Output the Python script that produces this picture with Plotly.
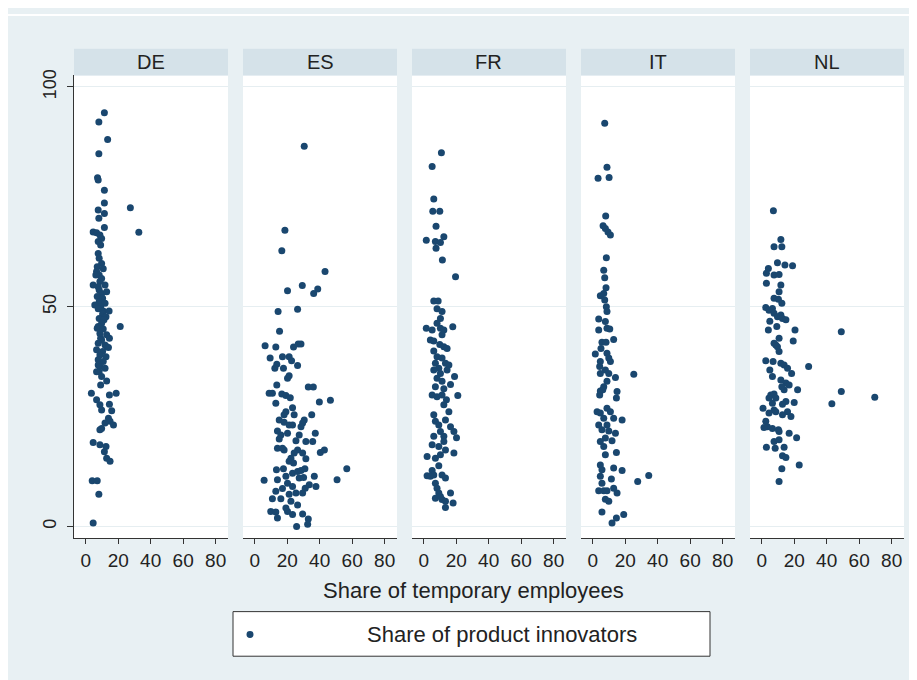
import plotly.graph_objects as go

countries = ["DE", "ES", "FR", "IT", "NL"]

de_x = [11.5, 8.1, 13.5, 8.1, 7.3, 7.7, 11.5, 11.5, 27.5, 7.7, 11.5, 8.1, 32.7, 4.6, 6.7, 8.75, 11.5, 9.8, 9.2, 7.7,
        7.7, 8.3, 9.8, 7.1, 10.8, 6.7, 8.3, 6.25, 9.8, 8.75, 4.6, 7.7, 11.9, 8.3, 9.8, 12.9, 7.1, 10.4, 8.3, 11.9,
        5.6, 9.2, 7.7, 10.8, 10.4, 12.5, 8.3, 11.25, 9.8, 7.7, 7.1, 10.8, 8.75, 12.9, 14.6, 9.2, 9.8, 7.7, 11.9, 12.9,
        14.0, 6.7, 10.4, 8.75, 12.5, 7.7, 10.8, 7.7, 8.75, 11.9, 8.3, 6.7, 9.8, 12.9, 9.2,
        3.5, 14.6, 18.75, 6.7, 8.75, 9.8, 14.6, 16.0, 14.0, 15.0, 11.9, 9.8, 8.75, 17.1,
        4.6, 8.75, 12.5, 11.5, 12.9, 15.0, 4.0, 7.1, 8.1, 4.6, 21.25, 14.4]
de_y = [94.1, 92.0, 88.0, 84.8, 79.3, 78.8, 76.5, 73.6, 72.5, 72.0, 71.2, 70.1, 66.9, 67.0, 66.8, 66.3, 68.0, 65.5, 64.0, 64.8,
        62.1, 61.0, 59.8, 59.1, 58.6, 58.0, 57.2, 57.2, 56.4, 55.7, 54.9, 54.5, 54.9, 53.8, 53.0, 53.4, 52.3, 51.9, 51.1, 50.8,
        50.4, 50.0, 49.5, 49.0, 48.3, 47.7, 47.3, 47.0, 46.2, 45.5, 45.1, 44.9, 43.9, 43.6, 42.8, 42.8, 42.4, 41.7, 41.3, 40.9,
        40.7, 40.2, 39.8, 39.0, 38.6, 37.9, 37.5, 36.7, 36.4, 36.0, 35.2, 35.2, 34.1, 33.1, 32.2,
        30.3, 29.9, 30.3, 28.8, 27.7, 26.5, 27.8, 26.3, 24.6, 23.9, 23.5, 22.3, 22.0, 23.1,
        19.1, 18.6, 18.2, 17.0, 15.5, 14.8, 10.4, 10.4, 7.3, 0.8, 45.5, 49.0]

es_x = [30.5, 18.6, 16.7, 43.3, 20.2, 29.3, 36.3, 38.8, 14.4, 26.4, 15.3, 6.4, 13.0, 23.9, 26.8, 28.5,
        9.5, 17.1, 21.2, 22.7, 26.4, 13.6, 17.7, 12.4, 21.2, 20.2, 13.6, 8.9, 10.9, 16.7, 19.2, 21.9, 33.0, 36.1,
        13.0, 39.8, 46.6, 35.1, 23.3, 24.3, 19.2, 18.1, 15.1, 18.1, 21.2, 23.3, 30.5, 29.5, 28.5,
        14.0, 16.1, 20.2, 27.4, 25.4, 31.5, 35.7, 37.3, 15.1, 14.0, 18.1, 17.1, 26.4, 24.3, 29.5, 22.3, 21.2, 31.5,
        40.4, 42.9, 13.4, 17.7, 23.9, 19.2, 23.3, 26.4, 28.5, 30.9, 27.4, 30.1, 36.7, 37.7, 33.6, 31.1, 56.7, 50.7,
        5.8, 14.0, 13.0, 17.1, 20.2, 23.3, 25.4, 21.2, 29.5, 10.9, 16.1, 22.3, 26.4, 9.9, 13.0, 19.2, 20.2, 14.0,
        23.3, 29.5, 33.0, 32.6, 25.8]
es_y = [86.5, 67.4, 62.7, 58.0, 53.6, 54.8, 53.0, 54.0, 48.9, 49.4, 44.4, 41.1, 40.8, 40.8, 41.5, 41.5,
        38.3, 38.6, 38.6, 37.7, 36.6, 36.9, 36.0, 36.0, 34.3, 33.7, 32.2, 30.3, 30.3, 30.1, 29.8, 29.3, 31.7, 31.7,
        28.0, 28.3, 28.7, 25.4, 27.0, 25.4, 26.1, 25.4, 24.2, 23.7, 23.1, 23.1, 24.2, 23.5, 22.7,
        21.7, 20.8, 21.2, 20.8, 19.5, 19.3, 19.3, 21.2, 19.9, 17.8, 17.4, 17.8, 17.4, 16.7, 16.7, 15.5, 14.8, 15.4,
        16.8, 17.4, 12.9, 13.1, 14.4, 11.4, 12.1, 12.5, 12.7, 13.1, 11.0, 11.1, 11.4, 9.1, 9.5, 8.7, 13.1, 10.6,
        10.5, 10.6, 8.0, 8.6, 9.8, 9.1, 7.6, 7.3, 7.6, 6.3, 6.3, 5.7, 4.9, 3.4, 3.3, 4.2, 3.4, 1.9,
        2.7, 2.8, 1.7, 0.5, 0.0]

fr_x = [10.9, 5.2, 6.2, 5.6, 9.9, 7.6, 1.6, 7.2, 10.3, 12.4, 7.6, 11.5, 19.6,
        6.2, 8.9, 8.2, 11.3, 10.3, 8.2, 1.6, 5.2, 10.3, 12.4, 17.9, 11.3, 4.1, 6.2, 9.9, 12.4, 14.4, 6.2,
        8.2, 11.3, 13.4, 7.2, 9.3, 15.5, 6.2, 10.3, 14.4, 19.0, 8.2, 11.3, 16.5, 7.2, 12.4, 5.2, 8.2, 11.3,
        21.0, 14.0, 12.4, 15.5, 6.2, 13.4, 7.2, 9.3, 16.5, 10.3, 18.6, 20.2, 12.4, 6.2, 12.4, 9.3, 5.2,
        13.4, 18.6, 2.1, 7.2, 10.3, 9.3, 5.2, 2.1, 6.2, 11.3, 13.4, 4.1, 7.2, 8.2, 9.3, 7.2, 11.3, 13.4,
        16.5, 18.1, 13.4, 10.3]
fr_y = [85.0, 81.9, 74.5, 71.7, 71.7, 68.3, 65.1, 64.8, 64.6, 65.9, 63.3, 60.6, 56.8,
        51.3, 51.3, 49.5, 48.9, 47.3, 46.2, 45.1, 44.7, 45.1, 44.7, 45.4, 43.6, 42.4, 42.2, 41.4, 40.9, 40.5, 39.9,
        38.6, 38.3, 37.1, 37.1, 36.0, 36.7, 35.6, 34.8, 35.6, 34.1, 33.7, 33.0, 32.3, 31.8, 31.3, 29.9, 29.5, 29.9,
        29.8, 28.8, 27.7, 26.1, 25.4, 24.2, 23.9, 23.1, 22.7, 21.6, 21.6, 20.2, 20.5, 20.5, 19.3, 18.2, 18.6,
        17.4, 16.7, 15.9, 15.5, 16.3, 13.8, 12.7, 11.5, 11.7, 11.7, 11.0, 11.4, 9.8, 8.7, 7.6, 6.4, 6.1, 5.7,
        7.6, 5.3, 4.3, 6.8]

it_x = [7.4, 8.8, 3.3, 10.1, 8.0, 6.4, 7.8, 9.4, 10.9, 8.4, 6.8, 7.4, 8.2, 4.7, 6.8, 7.4, 8.4, 8.8,
        3.7, 7.8, 8.8, 10.5, 3.7, 12.9, 5.7, 8.2, 1.6, 5.1, 8.8, 4.7, 9.9, 10.9, 4.3, 7.8, 4.7, 9.9, 14.0,
        25.3, 8.8, 6.8, 15.0, 4.7, 14.6, 4.3, 6.2, 2.7, 4.7, 8.8, 10.9, 6.8, 12.9, 18.1, 3.7, 8.8, 5.7, 9.9,
        14.0, 7.8, 4.7, 11.9, 6.8, 14.6, 7.8, 4.7, 5.7, 12.9, 18.1, 4.7, 11.5, 27.7, 34.5, 5.7, 3.7, 6.8, 8.8,
        12.9, 15.0, 7.8, 9.9, 5.7, 11.9, 14.6, 19.1]
it_y = [91.7, 81.7, 79.2, 79.4, 70.6, 68.4, 67.8, 67.0, 66.3, 61.1, 58.3, 56.6, 54.3, 52.5, 53.0, 51.5, 50.0, 48.9,
        47.2, 46.6, 45.1, 44.9, 44.7, 42.5, 41.9, 41.9, 39.2, 40.5, 39.4, 37.5, 38.3, 37.5, 36.4, 35.6, 34.8, 34.8, 33.9,
        34.6, 33.0, 31.8, 30.7, 30.8, 29.2, 29.9, 31.1, 26.1, 25.8, 26.9, 26.1, 24.6, 24.6, 24.2, 23.1, 23.1, 22.0, 21.7,
        21.2, 20.1, 19.3, 19.5, 18.2, 16.8, 16.3, 14.0, 12.9, 13.3, 12.7, 11.4, 10.8, 10.2, 11.6, 9.8, 8.1, 8.1, 8.1,
        8.7, 7.6, 6.2, 5.7, 3.3, 0.8, 1.9, 2.7]

nl_x = [7.2, 11.8, 7.6, 12.4, 9.7, 14.3, 19.0, 4.1, 2.9, 7.6, 10.7, 2.9, 11.8, 10.7, 7.6, 10.3, 12.4,
        2.5, 4.5, 6.6, 7.6, 9.7, 11.8, 12.8, 14.9, 5.0, 4.1, 9.3, 20.5, 49.0, 19.4, 10.7, 7.6, 9.7, 10.7, 8.7,
        2.5, 7.0, 5.0, 11.8, 13.8, 15.9, 18.4, 28.9, 6.6, 11.8, 14.9, 16.9, 13.8, 22.1, 49.0, 12.4,
        5.6, 7.6, 8.7, 4.5, 6.6, 14.9, 20.0, 12.8, 69.6, 43.2, 0.8, 7.6, 4.5, 8.7, 15.9, 18.0, 12.8,
        2.5, 3.5, 1.4, 6.6, 10.3, 10.7, 16.9, 21.5, 7.6, 10.7, 2.9, 8.3, 13.8, 12.8, 14.9, 23.1, 12.4, 10.7]
nl_y = [71.8, 65.3, 63.6, 63.6, 60.0, 59.5, 59.3, 58.7, 57.6, 57.2, 57.3, 55.3, 54.9, 53.4, 51.9, 51.7, 50.8,
        49.8, 49.2, 49.6, 48.5, 47.7, 48.1, 47.3, 47.0, 46.7, 44.7, 45.5, 44.7, 44.3, 42.2, 42.8, 41.7, 40.9, 39.8, 41.3,
        37.7, 37.5, 35.6, 37.1, 36.7, 36.0, 34.8, 36.4, 34.1, 33.3, 32.6, 32.2, 31.1, 31.1, 30.7, 31.8,
        29.9, 30.1, 29.2, 29.2, 28.0, 28.4, 28.2, 27.8, 29.4, 27.9, 26.9, 26.5, 25.8, 26.1, 26.1, 25.0, 25.4,
        23.9, 22.7, 22.5, 22.3, 22.0, 21.6, 21.2, 20.2, 19.3, 19.7, 18.0, 17.8, 18.0, 16.1, 15.7, 14.0, 13.1, 10.2]

xs = [de_x, es_x, fr_x, it_x, nl_x]
ys = [de_y, es_y, fr_y, it_y, nl_y]

x_ticks = [0, 20, 40, 60, 80]
y_ticks = [0, 50, 100]
legend_label = "Share of product innovators"
x_title = "Share of temporary employees"

# the page body adds an 8px offset; figure sized so it ends at the window edge
W, H = 909, 672
BG = "#e8f0f3"
STRIP = "#d5e2e9"
NAVY = "#1a476f"
FONT = "Liberation Sans, Arial, sans-serif"

panel_left = [66, 235, 404, 573, 742]
panel_w = 154
plot_top, plot_bot = 62, 529
strip_top = 35

fig = go.Figure()
layout = dict(
    width=W, height=H,
    margin=dict(l=0, r=0, t=0, b=0),
    paper_bgcolor=BG, plot_bgcolor="white",
    showlegend=False,
    font=dict(family=FONT, color="#222222", size=18),
)

ydom = [1 - plot_bot / H, 1 - plot_top / H]
shapes = []
annotations = []
for i, (c, xv, yv) in enumerate(zip(countries, xs, ys)):
    n = "" if i == 0 else str(i + 1)
    fig.add_trace(go.Scatter(
        x=xv, y=yv, mode="markers", xaxis="x" + n, yaxis="y",
        marker=dict(color=NAVY, size=7, line=dict(width=0)),
        name=legend_label, hoverinfo="x+y",
    ))
    x0 = panel_left[i] / W
    x1 = (panel_left[i] + panel_w) / W
    layout["xaxis" + n] = dict(
        domain=[x0, x1], anchor="y", range=[-7.2, 87.6],
        tickvals=x_ticks, ticks="outside", ticklen=5, tickwidth=1, tickcolor="#333",
        showline=True, linecolor="#333", linewidth=1,
        showgrid=False, zeroline=False, fixedrange=True,
        tickfont=dict(size=19, family=FONT, color="#222"),
    )
    shapes.append(dict(type="rect", xref="paper", yref="paper",
                       x0=x0, x1=x1, y0=1 - plot_top / H, y1=1 - strip_top / H,
                       fillcolor=STRIP, line=dict(width=0), layer="above"))
    annotations.append(dict(text=c, xref="paper", yref="paper",
                            x=(x0 + x1) / 2, y=1 - (strip_top + plot_top) / 2 / H,
                            xanchor="center", yanchor="middle", showarrow=False,
                            font=dict(size=20, family=FONT, color="#222")))

layout["yaxis"] = dict(
    domain=ydom, anchor="x", range=[-2.7, 102.6],
    tickvals=y_ticks, tickangle=-90, ticks="outside", ticklen=6, tickcolor="#333",
    showline=True, linecolor="#333", linewidth=1, ticklabelstandoff=4,
    showgrid=True, gridcolor="#e6eef1", gridwidth=1, zeroline=False, fixedrange=True,
    tickfont=dict(size=18, family=FONT, color="#222"),
)

# thin white band at the top as in the reference
shapes.append(dict(type="rect", xref="paper", yref="paper", x0=0, x1=1, y0=1 - 2 / H, y1=1,
                   fillcolor="white", line=dict(width=0), layer="above"))

# x-axis title
annotations.append(dict(text=x_title, xref="paper", yref="paper", x=465 / W, y=1 - 582 / H,
                        xanchor="center", yanchor="middle", showarrow=False,
                        font=dict(size=22, family=FONT, color="#222")))

# legend box
lx0, lx1, ly0, ly1 = 225, 702, 603, 648
shapes.append(dict(type="rect", xref="paper", yref="paper",
                   x0=lx0 / W, x1=lx1 / W, y0=1 - ly1 / H, y1=1 - ly0 / H,
                   fillcolor="white", line=dict(color="#333", width=1), layer="above"))
shapes.append(dict(type="circle", xref="paper", yref="paper",
                   x0=(242 - 3.5) / W, x1=(242 + 3.5) / W, y0=1 - (626 + 3.5) / H, y1=1 - (626 - 3.5) / H,
                   fillcolor=NAVY, line=dict(width=0), layer="above"))
annotations.append(dict(text=legend_label, xref="paper", yref="paper", x=494 / W, y=1 - 626 / H,
                        xanchor="center", yanchor="middle", showarrow=False,
                        font=dict(size=22, family=FONT, color="#222")))

layout["shapes"] = shapes
layout["annotations"] = annotations
fig.update_layout(**layout)
fig.write_html("out.html")
